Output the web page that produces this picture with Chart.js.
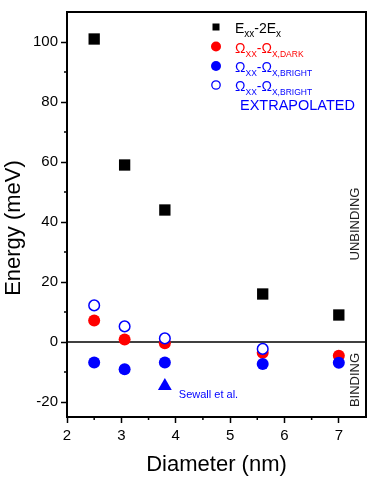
<!DOCTYPE html>
<html>
<head>
<meta charset="utf-8">
<script src="https://cdn.jsdelivr.net/npm/chart.js@4/dist/chart.umd.min.js"></script>
<style>
  html, body { margin: 0; padding: 0; background: #ffffff; }
  canvas { display: block; }
</style>
</head>
<body>
<canvas id="c" width="374" height="482"></canvas>
<script>
// ---- data ----
const diameters = [2.5, 3.06, 3.8, 5.6, 7.0];
const exxMinus2Ex = [101, 59, 44, 16, 9];
const omegaDark = [7.2, 0.8, -0.4, -3.6, -4.6];
const omegaBright = [-6.8, -9.1, -6.8, -7.3, -6.9];
const extrapDiameters = [2.5, 3.06, 3.8, 5.6];
const omegaBrightExtrap = [12.2, 5.2, 1.2, -2.3];
const sewallDiameter = [3.8];
const sewallValue = [-14.7];

const xTickValues = [2, 3, 4, 5, 6, 7];
const xMinorTicks = [2.5, 3.5, 4.5, 5.5, 6.5];
const yTickValues = [-20, 0, 20, 40, 60, 80, 100];
const yMinorTicks = [-10, 10, 30, 50, 70, 90];

const xTitle = 'Diameter (nm)';
const yTitle = 'Energy (meV)';
const unbindingLabel = 'UNBINDING';
const bindingLabel = 'BINDING';
const sewallLabel = 'Sewall et al.';
const extrapolatedLabel = 'EXTRAPOLATED';
// legend rich-text pieces: [text, isSubscript]
const legendTexts = [
  [['E', 0], ['xx', 1], ['-2E', 0], ['x', 1]],
  [['\u03A9', 0], ['XX', 1], ['-\u03A9', 0], ['X,DARK', 1]],
  [['\u03A9', 0], ['XX', 1], ['-\u03A9', 0], ['X,BRIGHT', 1]],
  [['\u03A9', 0], ['XX', 1], ['-\u03A9', 0], ['X,BRIGHT', 1]]
];

const FONT = '"Liberation Sans", Arial, Helvetica, sans-serif';
const RED = '#ff0000';
const BLUE = '#0000ff';

const pts = (xs, ys) => xs.map((x, i) => ({x: x, y: ys[i]}));

const framePlugin = {
  id: 'frame',
  beforeDatasetsDraw(chart) {
    const {ctx, chartArea: a, scales: {y}} = chart;
    const y0 = y.getPixelForValue(0);
    ctx.save();
    ctx.strokeStyle = '#000';
    ctx.lineWidth = 1.5;
    ctx.beginPath();
    ctx.moveTo(a.left, y0);
    ctx.lineTo(a.right, y0);
    ctx.stroke();
    ctx.restore();
  },
  afterDraw(chart) {
    const {ctx, chartArea: a, scales: {x, y}} = chart;
    ctx.save();
    // frame top/right
    ctx.strokeStyle = '#000';
    ctx.lineWidth = 2;
    ctx.beginPath();
    ctx.moveTo(a.left, a.top);
    ctx.lineTo(a.right, a.top);
    ctx.lineTo(a.right, a.bottom);
    ctx.stroke();
    // minor ticks
    ctx.lineWidth = 1.5;
    ctx.beginPath();
    yMinorTicks.forEach(v => {
      const p = y.getPixelForValue(v);
      ctx.moveTo(a.left - 3, p);
      ctx.lineTo(a.left, p);
    });
    xMinorTicks.forEach(v => {
      const p = x.getPixelForValue(v);
      ctx.moveTo(p, a.bottom);
      ctx.lineTo(p, a.bottom + 3);
    });
    ctx.stroke();

    // y title
    ctx.fillStyle = '#000';
    ctx.font = '22px ' + FONT;
    ctx.textAlign = 'center';
    ctx.textBaseline = 'middle';
    ctx.save();
    ctx.translate(14, 228);
    ctx.rotate(-Math.PI / 2);
    ctx.fillText(yTitle, 0, 0);
    ctx.restore();

    // UNBINDING / BINDING
    ctx.fillStyle = '#222';
    ctx.font = '13px ' + FONT;
    ctx.save();
    ctx.translate(a.right - 11, 224);
    ctx.rotate(-Math.PI / 2);
    ctx.fillText(unbindingLabel, 0, 0);
    ctx.restore();
    ctx.save();
    ctx.translate(a.right - 11, 380);
    ctx.rotate(-Math.PI / 2);
    ctx.fillText(bindingLabel, 0, 0);
    ctx.restore();

    // Sewall label
    ctx.fillStyle = BLUE;
    ctx.font = '11px ' + FONT;
    ctx.textAlign = 'left';
    ctx.fillText(sewallLabel, x.getPixelForValue(sewallDiameter[0]) + 14, y.getPixelForValue(sewallValue[0]) + 9);

    // legend
    const mx = 216, tx = 235;
    const rowsY = [27, 46.5, 66, 85];
    const colors = ['#000', RED, BLUE, BLUE];
    rowsY.forEach((ry, i) => {
      ctx.beginPath();
      if (i === 0) {
        ctx.fillStyle = '#000';
        ctx.fillRect(mx - 3.5, ry - 3.5, 7, 7);
      } else if (i === 3) {
        ctx.arc(mx, ry, 4.2, 0, Math.PI * 2);
        ctx.fillStyle = '#fff';
        ctx.fill();
        ctx.strokeStyle = BLUE;
        ctx.lineWidth = 1.3;
        ctx.stroke();
      } else {
        ctx.arc(mx, ry, 5, 0, Math.PI * 2);
        ctx.fillStyle = colors[i];
        ctx.fill();
      }
      // text
      let cx = tx;
      ctx.textBaseline = 'alphabetic';
      ctx.textAlign = 'left';
      ctx.fillStyle = colors[i];
      legendTexts[i].forEach(([t, sub]) => {
        ctx.font = (sub ? (i === 0 ? '10px ' : '8.5px ') : '14px ') + FONT;
        ctx.fillText(t, cx, ry + 6 + (sub ? 4 : 0));
        cx += ctx.measureText(t).width;
      });
    });
    ctx.fillStyle = BLUE;
    ctx.font = '14.5px ' + FONT;
    ctx.fillText(extrapolatedLabel, 240, 110);
    ctx.restore();
  }
};

new Chart(document.getElementById('c'), {
  type: 'scatter',
  data: {
    datasets: [
      {
        label: 'Exx-2Ex', data: pts(diameters, exxMinus2Ex), order: 5,
        pointStyle: 'rect', pointRadius: 8, backgroundColor: '#000', borderColor: '#000', borderWidth: 0
      },
      {
        label: 'Ωxx-Ωx,DARK', data: pts(diameters, omegaDark), order: 4,
        pointStyle: 'circle', pointRadius: 6, backgroundColor: RED, borderColor: RED, borderWidth: 0
      },
      {
        label: 'Ωxx-Ωx,BRIGHT', data: pts(diameters, omegaBright), order: 3,
        pointStyle: 'circle', pointRadius: 6, backgroundColor: BLUE, borderColor: BLUE, borderWidth: 0
      },
      {
        label: 'Ωxx-Ωx,BRIGHT EXTRAPOLATED', data: pts(extrapDiameters, omegaBrightExtrap), order: 1,
        pointStyle: 'circle', pointRadius: 5.3, backgroundColor: '#fff', borderColor: BLUE, borderWidth: 1.5
      },
      {
        label: 'Sewall et al.', data: pts(sewallDiameter, sewallValue), order: 2,
        pointStyle: 'triangle', pointRadius: 8, backgroundColor: BLUE, borderColor: BLUE, borderWidth: 0
      }
    ]
  },
  options: {
    responsive: false,
    animation: false,
    events: [],
    layout: { padding: { top: 9, right: 7, left: 0, bottom: 0 } },
    plugins: { legend: { display: false }, tooltip: { enabled: false } },
    scales: {
      x: {
        type: 'linear', min: 2, max: 7.5,
        afterBuildTicks: s => { s.ticks = xTickValues.map(v => ({value: v})); },
        afterFit: s => { s.height = 65; },
        grid: { drawOnChartArea: false, tickLength: 6, tickWidth: 1.5, tickColor: '#000' },
        border: { color: '#000', width: 2 },
        ticks: { padding: 4, color: '#000', font: { family: FONT, size: 15 }, maxRotation: 0, autoSkip: false },
        title: { display: true, text: xTitle, color: '#000', font: { family: FONT, size: 22 }, padding: { top: 0, bottom: 4 } }
      },
      y: {
        type: 'linear', min: -25, max: 110,
        afterBuildTicks: s => { s.ticks = yTickValues.map(v => ({value: v})); },
        afterFit: s => { s.width = 67; },
        grid: { drawOnChartArea: false, tickLength: 6, tickWidth: 1.5, tickColor: '#000' },
        border: { color: '#000', width: 2 },
        ticks: { padding: 3, color: '#000', font: { family: FONT, size: 15 }, autoSkip: false }
      }
    }
  },
  plugins: [framePlugin]
});
</script>
</body>
</html>
